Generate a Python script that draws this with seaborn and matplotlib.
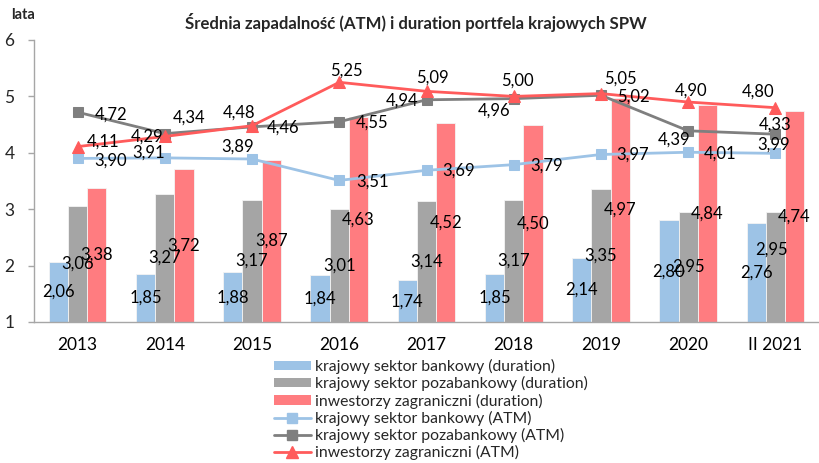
import matplotlib
matplotlib.use("Agg")
import matplotlib.pyplot as plt
import numpy as np
import pandas as pd
import seaborn as sns
from matplotlib.lines import Line2D
from matplotlib.patches import Patch

# Years on the category axis
categories = ["2013", "2014", "2015", "2016", "2017", "2018", "2019", "2020", "II 2021"]

# Duration (bars), in years
bank_duration = [2.06, 1.85, 1.88, 1.84, 1.74, 1.85, 2.14, 2.80, 2.76]
nonbank_duration = [3.06, 3.27, 3.17, 3.01, 3.14, 3.17, 3.35, 2.95, 2.95]
foreign_duration = [3.38, 3.72, 3.87, 4.63, 4.52, 4.50, 4.97, 4.84, 4.74]

# Average time to maturity (lines), in years
bank_atm = [3.90, 3.91, 3.89, 3.51, 3.69, 3.79, 3.97, 4.01, 3.99]
nonbank_atm = [4.72, 4.34, 4.46, 4.55, 4.94, 4.96, 5.02, 4.39, 4.33]
foreign_atm = [4.11, 4.29, 4.48, 5.25, 5.09, 5.00, 5.05, 4.90, 4.80]

bar_names = ["krajowy sektor bankowy (duration)",
             "krajowy sektor pozabankowy (duration)",
             "inwestorzy zagraniczni (duration)"]
line_names = ["krajowy sektor bankowy (ATM)",
              "krajowy sektor pozabankowy (ATM)",
              "inwestorzy zagraniczni (ATM)"]

# Label offsets for line values, in pixels (dx, dy)
bank_atm_offsets = [(33, -2), (-16, 5), (-14, 12), (33, -1), (32, 0), (33, -1), (32, 0), (32, -1), (-2, 9)]
nonbank_atm_offsets = [(33, -2), (24, 16), (31, -1), (33, -1), (-24, -1), (-20, -12), (32, -1), (-14, -9), (0, 10)]
foreign_atm_offsets = [(25, 5), (-18, 0), (-13, 13), (7, 12), (6, 14), (4, 16), (19, 15), (3, 11), (-17, 16)]
# Extra label shifts for bar values, in pixels (series index, category index, dx, dy)
bar_label_shifts = {(1, 8): (-4, 17)}

bar_colors = ["#9DC3E6", "#A5A5A5", "#FF7C80"]
line_colors = ["#9DC3E6", "#7F7F7F", "#FF5B5B"]
line_markers = ["s", "s", "^"]

sns.set_theme(style="white")
FONT = ["Lato", "DejaVu Sans"]
plt.rcParams["font.family"] = FONT

W, H = 819, 463
fig = plt.figure(figsize=(W / 100, H / 100), dpi=100)
ax_left, ax_right, ax_top, ax_bottom = 34, 819, 40, 322
ax = fig.add_axes([ax_left / W, 1 - ax_bottom / H, (ax_right - ax_left) / W, (ax_bottom - ax_top) / H])

df = pd.DataFrame({
    "cat": categories * 3,
    "series": [bar_names[0]] * 9 + [bar_names[1]] * 9 + [bar_names[2]] * 9,
    "value": bank_duration + nonbank_duration + foreign_duration,
})
sns.barplot(data=df, x="cat", y="value", hue="series", palette=bar_colors,
            width=0.66, saturation=1, legend=False, ax=ax,
            edgecolor="#F4F4F4", linewidth=0.6, errorbar=None)

# Value labels centred inside the visible part of each bar
ylow = 1
for si, (cont, vals) in enumerate(zip(ax.containers, [bank_duration, nonbank_duration, foreign_duration])):
    for ci, (patch, v) in enumerate(zip(cont.patches, vals)):
        xc = patch.get_x() + patch.get_width() / 2
        dx, dy = bar_label_shifts.get((si, ci), (0, 0))
        ax.annotate(f"{v:.2f}".replace(".", ","), (xc, (v + ylow) / 2), xytext=(dx, dy),
                    textcoords="offset pixels", ha="center", va="center",
                    fontsize=12, color="black", zorder=6)

xpos = np.arange(len(categories))
line_data = [bank_atm, nonbank_atm, foreign_atm]
offsets = [bank_atm_offsets, nonbank_atm_offsets, foreign_atm_offsets]
for vals, col, mk, offs in zip(line_data, line_colors, line_markers, offsets):
    sns.lineplot(x=xpos, y=vals, color=col, marker=mk, markersize=7.5 if mk == "s" else 8.5,
                 markeredgecolor=col, linewidth=2, ax=ax, zorder=5)
    for x, v, (dx, dy) in zip(xpos, vals, offs):
        ax.annotate(f"{v:.2f}".replace(".", ","), (x, v), xytext=(dx, dy),
                    textcoords="offset pixels", ha="center", va="center",
                    fontsize=12, color="black", zorder=7)

ax.set_ylim(1, 6)
ax.set_xlim(-0.5, -0.5 + (ax_right - ax_left) / 87.5)
ax.set_yticks([1, 2, 3, 4, 5, 6])
ax.set_xticks(xpos)
ax.set_xticklabels(categories)
ax.set_xlabel("")
ax.set_ylabel("")
ax.set_xticks(np.arange(-0.5, len(categories) + 0.5, 1), minor=True)
ax.tick_params(axis="x", which="major", length=0, pad=10.5, labelsize=12.5, colors="black")
ax.tick_params(axis="x", which="minor", length=4, width=1, color="#A6A6A6", direction="out")
ax.tick_params(axis="y", length=4, width=1, color="#A6A6A6", direction="out", pad=10,
               labelsize=12.5, left=True)
for s in ["top", "right"]:
    ax.spines[s].set_visible(False)
for s in ["left", "bottom"]:
    ax.spines[s].set_color("#A6A6A6")
    ax.spines[s].set_linewidth(1)
ax.grid(False)

fig.text(416 / W, 1 - 22 / H, "Średnia zapadalność (ATM) i duration portfela krajowych SPW",
         ha="center", va="center", fontsize=12.1, fontweight="bold")
fig.text(11 / W, 1 - 15 / H, "lata", ha="left", va="center", fontsize=10.5, fontweight="bold")

handles = [Patch(facecolor=c, edgecolor="none") for c in bar_colors]
handles += [Line2D([0], [0], color=c, marker=m, markersize=7 if m == "s" else 8, linewidth=2)
            for c, m in zip(line_colors, line_markers)]
leg = fig.legend(handles, bar_names + line_names, loc="upper left",
                 bbox_to_anchor=(274 / W, 1 - 359 / H), frameon=False, fontsize=11.3,
                 handlelength=2.35, handletextpad=0.28, labelspacing=0.14,
                 borderpad=0, borderaxespad=0, handleheight=0.55)

fig.savefig("out.png", dpi=100)
